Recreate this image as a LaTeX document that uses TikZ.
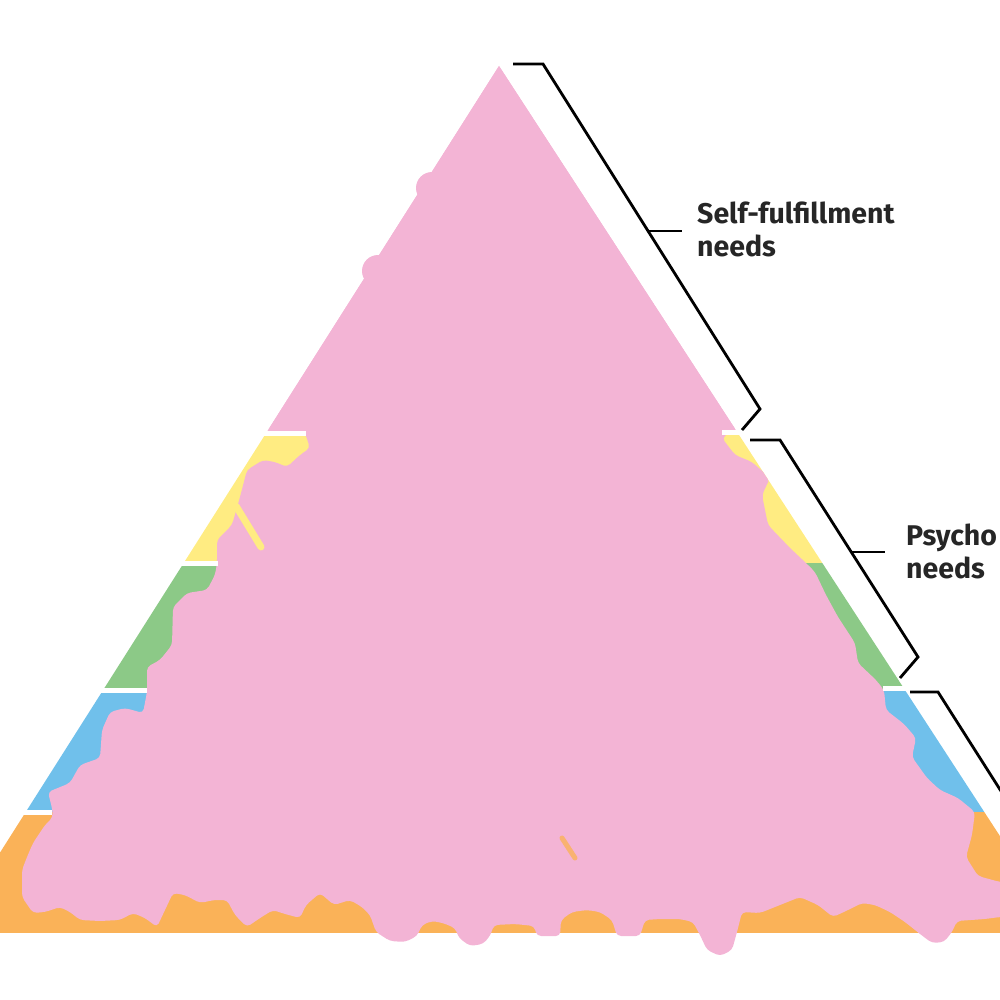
\documentclass[tikz,border=0pt]{standalone}
\usepackage{fontspec}
\setmainfont{Fira Sans}
\definecolor{pinkc}{RGB}{243,180,213}
\definecolor{yellowc}{RGB}{255,236,130}
\definecolor{greenc}{RGB}{140,201,135}
\definecolor{bluec}{RGB}{112,192,235}
\definecolor{orangec}{RGB}{250,178,88}
\begin{document}
\begin{tikzpicture}[x=1pt,y=-1pt,
  brk/.style={draw=black,line width=2.8pt,line join=miter},
  sep/.style={draw=white,line width=5pt},
  lbl/.style={font=\bfseries\fontsize{28.5}{33}\selectfont,align=left,inner sep=0pt,anchor=west,text=black!85}]
\useasboundingbox (0,0) rectangle (1000,1000);
\clip (0,0) rectangle (1000,1000);
\coordinate (A) at (499,66);
\coordinate (BL) at (-51,933);
\coordinate (BR) at (1063,933);
% bands
\begin{scope}
\clip (A) -- (BL) -- (BR) -- cycle;
\fill[pinkc] (-100,0) rectangle (1100,433);
\fill[yellowc] (-100,433) rectangle (1100,563);
\fill[greenc] (-100,563) rectangle (1100,689);
\fill[bluec] (-100,689) rectangle (1100,812);
\fill[orangec] (-100,812) rectangle (1100,933);
\end{scope}
% pink blob
\begin{scope}
\clip (A) -- (BL) -- (-51,1000) -- (1100,1000) -- (BR) -- cycle;
\fill[pinkc,rounded corners=4pt] (740,425) -- (722,438) -- (735,455) -- (752,462) -- (770,478) -- (762,495) -- (768,525) -- (790,548) -- (806,563) -- (815,572) -- (826,595) -- (838,617) -- (855,643) -- (858,663) -- (876,680) -- (884,690) -- (886,710) -- (904,724) -- (916,738) -- (912,757) -- (927,778) -- (940,790) -- (958,798) -- (975,812) -- (972,835) -- (966,857) -- (978,876) -- (1000,882) -- (1070,884) -- (1070,917) -- (1000,917) -- (985,919) -- (957,921) -- (952,932) -- (944,942) -- (932,943) -- (920,934) -- (905,922) -- (890,912) -- (875,905) -- (862,903) -- (846,911) -- (833,917) -- (818,905) -- (800,897) -- (780,905) -- (760,913) -- (742,912) -- (737,932) -- (732,950) -- (720,956) -- (707,950) -- (700,935) -- (693,922) -- (680,919) -- (660,919) -- (645,920) -- (640,936) -- (617,936) -- (612,920) -- (600,912) -- (587,910) -- (572,912) -- (561,920) -- (560,936) -- (537,936) -- (534,926) -- (515,924) -- (494,925) -- (490,936) -- (483,944) -- (470,946) -- (459,938) -- (455,928) -- (443,923) -- (432,921) -- (422,925) -- (417,936) -- (405,942) -- (390,941) -- (376,932) -- (370,915) -- (362,907) -- (350,900) -- (334,905) -- (320,893) -- (306,905) -- (300,918) -- (285,914) -- (273,910) -- (260,918) -- (247,927) -- (235,915) -- (227,900) -- (214,900) -- (200,903) -- (185,895) -- (173,893) -- (165,910) -- (157,927) -- (145,918) -- (133,913) -- (120,920) -- (100,921) -- (80,920) -- (70,912) -- (60,907) -- (45,912) -- (33,913) -- (22,897) -- (22,870) -- (27,857) -- (33,843) -- (45,825) -- (53,817) -- (52,808) -- (48,792) -- (70,783) -- (80,765) -- (100,758) -- (102,730) -- (110,712) -- (125,708) -- (143,713) -- (147,692) -- (147,667) -- (160,660) -- (172,645) -- (173,607) -- (187,593) -- (207,590) -- (215,575) -- (217,563) -- (217,540) -- (232,525) -- (240,497) -- (247,470) -- (263,460) -- (275,462) -- (287,467) -- (300,455) -- (310,448) -- (305,433) -- (250,428) -- (499,40) -- cycle;
\end{scope}
% bumps on upper left edge
\fill[pinkc] (432,188) circle (16);
\fill[pinkc] (378,271) circle (16);
% streaks
\draw[yellowc,line width=7pt,line cap=round] (236,506) -- (261,547);
\draw[orangec!80!pinkc,line width=5pt,line cap=round] (562,838) -- (575,858);
% white separators (visible parts)
\draw[sep] (200,433) -- (306,433);
\draw[sep] (150,563) -- (218,563);
\draw[sep] (60,690) -- (147,690);
\draw[sep] (0,812) -- (52,812);
\draw[sep] (722,432) -- (760,432);
\draw[sep] (883,688) -- (920,688);
% labels
\node[lbl] (t1) at (697,229) {Self-fulfillment\\needs};
\node[lbl] (t2) at (906,551) {Psycho\\needs};
% bracket 1
\coordinate (b1a) at (513,64);
\coordinate (b1b) at (543,64);
\coordinate (b1c) at (760,409);
\coordinate (b1d) at (742,430);
\coordinate (b1m) at (648,231);
\coordinate (b1t) at (682,231);
\draw[brk] (b1a) -- (b1b) -- (b1c) -- (b1d);
\draw[brk] (b1m) -- (b1t);
% bracket 2
\coordinate (b2a) at (750,440);
\coordinate (b2b) at (780,440);
\coordinate (b2c) at (918,657);
\coordinate (b2d) at (900,678);
\coordinate (b2m) at (851,552);
\coordinate (b2t) at (885,552);
\draw[brk] (b2a) -- (b2b) -- (b2c) -- (b2d);
\draw[brk] (b2m) -- (b2t);
% bracket 3
\coordinate (b3a) at (910,692);
\coordinate (b3b) at (938,692);
\coordinate (b3c) at (1013,810);
\draw[brk] (b3a) -- (b3b) -- (b3c);
\end{tikzpicture}
\end{document}
